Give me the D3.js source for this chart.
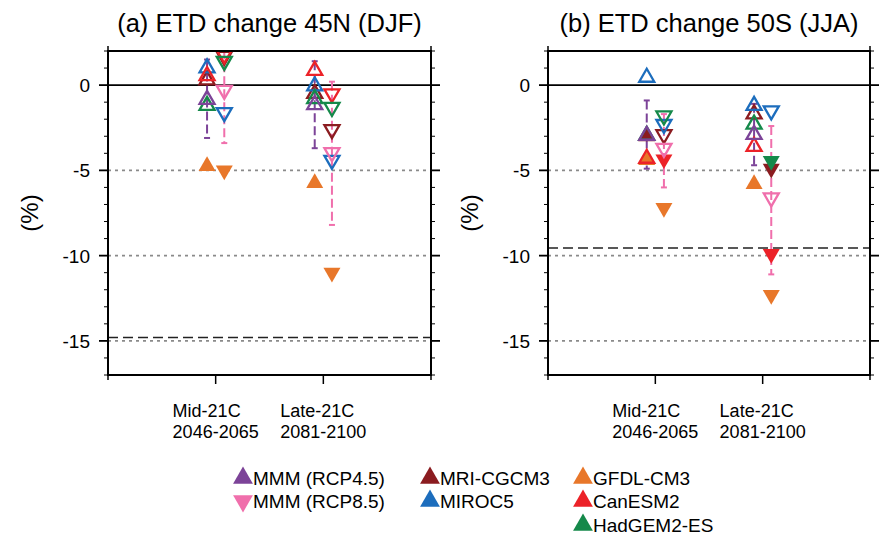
<!DOCTYPE html>
<html>
<head>
<meta charset="utf-8">
<script src="https://cdn.jsdelivr.net/npm/d3@7"></script>
<style>
body{margin:0;background:#fff;}
text{font-family:"Liberation Sans",Arial,Helvetica,sans-serif;fill:#000;}
</style>
</head>
<body>
<div id="chart"></div>
<script>
//Data
var titles = ['(a) ETD change 45N (DJF)','(b) ETD change 50S (JJA)'];
var periodNames = ['Mid-21C','Late-21C'];
var periodYears = ['2046-2065','2081-2100'];
var models = ['MRI-CGCM3','MIROC5','GFDL-CM3','CanESM2','HadGEM2-ES'];
var modelColors = ['#8b1c20','#1c6dbd','#e8772a','#ec2228','#15894a'];
var mmmNames = ['MMM (RCP4.5)','MMM (RCP8.5)'];
var mmmColors = ['#7c4398','#f06fac'];
var yTicks = [0,-5,-10,-15];
var gridLines = [-5,-10,-15];
var refLines = [-14.8,-9.55];

//model values [panel][period][model]
var rcp45 = [
	[[0.3,1.0,-4.75,0.55,-1.2],[-0.5,-0.05,-5.75,0.85,-0.8]],
	[[-3.0,0.45,-4.4,-4.3,-2.95],[-1.7,-1.2,-5.8,-3.6,-2.3]]
];
var rcp85 = [
	[[1.7,-1.6,-5.0,1.8,1.4],[-2.6,-4.4,-11.0,-0.5,-1.3]],
	[[-2.9,-2.3,-7.2,-4.35,-1.8],[-4.9,-1.5,-12.3,-9.9,-4.45]]
];
//1 = filled marker
var rcp45Filled = [
	[[0,0,1,0,0],[0,0,1,0,0]],
	[[1,0,1,0,0],[0,0,1,0,0]]
];
var rcp85Filled = [
	[[0,0,1,0,0],[0,0,1,0,0]],
	[[0,0,1,1,0],[1,0,1,1,1]]
];
//multi model mean and range [panel][period]
var mmm45 = [[-0.85,-1.15],[-2.95,-2.9]];
var mmm45Lo = [[-3.1,-3.7],[-4.9,-4.7]];
var mmm45Hi = [[1.5,1.4],[-0.9,-1.1]];
var mmm85 = [[-0.3,-3.95],[-3.7,-6.6]];
var mmm85Lo = [[-3.4,-8.2],[-6.0,-11.1]];
var mmm85Hi = [[2.8,0.2],[-1.7,-2.4]];

var w = 880, h = 537;
var plotTop = 51, plotBottom = 375;
var panelX = [[108,431],[548,870]];

var svg = d3.select('div#chart').append('svg')
			.attr('width',w)
			.attr('height',h);

var y = d3.scaleLinear().domain([2,-17]).range([plotTop,plotBottom]);
var tri = d3.symbol().type(d3.symbolTriangle);

panelX.forEach(function(px,p){
	var x = d3.scaleLinear().domain([0,3]).range(px);
	var g = svg.append('g').attr('id','panel'+p);

	g.append('clipPath').attr('id','clip'+p)
		.append('rect')
		.attr('x',px[0]).attr('y',plotTop)
		.attr('width',px[1]-px[0]).attr('height',plotBottom-plotTop);

	var plot = g.append('g').attr('clip-path','url(#clip'+p+')');

	//grid lines
	plot.selectAll('line.grid').data(gridLines).enter()
		.append('line')
		.attr('class','grid')
		.attr('x1',px[0]).attr('x2',px[1])
		.attr('y1',function(d){return y(d);})
		.attr('y2',function(d){return y(d);})
		.attr('stroke','#8a8a8a')
		.attr('stroke-width',1.6)
		.attr('stroke-dasharray','3,4');

	plot.append('line')
		.attr('x1',px[0]).attr('x2',px[1])
		.attr('y1',y(refLines[p])).attr('y2',y(refLines[p]))
		.attr('stroke','#222')
		.attr('stroke-width',1.6)
		.attr('stroke-dasharray','10,5');

	plot.append('line')
		.attr('x1',px[0]).attr('x2',px[1])
		.attr('y1',y(0)).attr('y2',y(0))
		.attr('stroke','#000')
		.attr('stroke-width',1.8);

	//series per scenario
	var scen = [
		{vals:rcp45[p],fill:rcp45Filled[p],mean:mmm45[p],lo:mmm45Lo[p],hi:mmm45Hi[p],col:mmmColors[0],off:-0.08,rot:0},
		{vals:rcp85[p],fill:rcp85Filled[p],mean:mmm85[p],lo:mmm85Lo[p],hi:mmm85Hi[p],col:mmmColors[1],off:0.08,rot:180}
	];

	scen.forEach(function(s){
		periodNames.forEach(function(n,k){
			var cx = x(k+1+s.off);
			//range bar
			plot.append('line')
				.attr('x1',cx).attr('x2',cx)
				.attr('y1',y(s.hi[k])).attr('y2',y(s.lo[k]))
				.attr('stroke',s.col)
				.attr('stroke-width',2)
				.attr('stroke-dasharray','9,4');
			[s.lo[k],s.hi[k]].forEach(function(v){
				plot.append('line')
					.attr('x1',cx-3).attr('x2',cx+3)
					.attr('y1',y(v)).attr('y2',y(v))
					.attr('stroke',s.col)
					.attr('stroke-width',2);
			});

			//models
			plot.selectAll(null).data(s.vals[k]).enter()
				.append('path')
				.attr('d',function(d,i){return tri.size(s.fill[k][i] ? 125 : 98)();})
				.attr('transform',function(d){return 'translate('+cx+','+y(d)+') rotate('+s.rot+')';})
				.attr('fill',function(d,i){return s.fill[k][i] ? modelColors[i] : 'none';})
				.attr('stroke',function(d,i){return s.fill[k][i] ? 'none' : modelColors[i];})
				.attr('stroke-width',2.3);

			//mean
			plot.append('path')
				.attr('d',tri.size(98)())
				.attr('transform','translate('+cx+','+y(s.mean[k])+') rotate('+s.rot+')')
				.attr('fill','none')
				.attr('stroke',s.col)
				.attr('stroke-width',2.3);
		});
	});

	//frame
	g.append('rect')
		.attr('x',px[0]).attr('y',plotTop)
		.attr('width',px[1]-px[0]).attr('height',plotBottom-plotTop)
		.attr('fill','none')
		.attr('stroke','#000')
		.attr('stroke-width',2);

	//y ticks both sides, outward
	var minor = d3.range(-17,3,1);
	[[px[0],-1],[px[1],1]].forEach(function(side){
		g.selectAll(null).data(minor).enter()
			.append('line')
			.attr('x1',side[0])
			.attr('x2',function(d){return side[0]+side[1]*(yTicks.indexOf(d)>=0 ? 9 : 4);})
			.attr('y1',function(d){return y(d);})
			.attr('y2',function(d){return y(d);})
			.attr('stroke','#000')
			.attr('stroke-width',function(d){return yTicks.indexOf(d)>=0 ? 1.8 : 1;});
	});

	g.selectAll('text.ytick').data(yTicks).enter()
		.append('text')
		.attr('class','ytick')
		.attr('x',px[0]-18)
		.attr('y',function(d){return y(d)+7;})
		.attr('text-anchor','end')
		.style('font-size','19px')
		.text(function(d){return d;});

	g.append('text')
		.attr('transform','translate('+(px[0]-78)+','+((plotTop+plotBottom)/2)+') rotate(-90)')
		.attr('text-anchor','middle')
		.attr('dy','0.35em')
		.style('font-size','24px')
		.text('(%)');

	//x ticks
	g.selectAll(null).data([1,2]).enter()
		.append('line')
		.attr('x1',function(d){return x(d);})
		.attr('x2',function(d){return x(d);})
		.attr('y1',plotBottom).attr('y2',plotBottom+9)
		.attr('stroke','#000')
		.attr('stroke-width',1.5);
	[0,3].forEach(function(d){
		g.append('line').attr('x1',x(d)).attr('x2',x(d)).attr('y1',plotTop).attr('y2',plotTop-5)
			.attr('stroke','#000').attr('stroke-width',1.5);
		g.append('line').attr('x1',x(d)).attr('x2',x(d)).attr('y1',plotBottom).attr('y2',plotBottom+5)
			.attr('stroke','#000').attr('stroke-width',1.5);
	});

	periodNames.forEach(function(n,k){
		var yr = g.append('text')
			.attr('x',x(k+1))
			.attr('y',438)
			.attr('text-anchor','middle')
			.style('font-size','18px')
			.text(periodYears[k]);
		var bb = yr.node().getBBox();
		g.append('text')
			.attr('x',bb.x)
			.attr('y',417)
			.style('font-size','18px')
			.text(n);
	});

	//title
	g.append('text')
		.attr('x',(px[0]+px[1])/2)
		.attr('y',32)
		.attr('text-anchor','middle')
		.style('font-size','25.5px')
		.text(titles[p]);
});

//Legend
var legendItems = [
	{label:mmmNames[0],color:mmmColors[0],rot:0,col:0,row:0},
	{label:mmmNames[1],color:mmmColors[1],rot:180,col:0,row:1},
	{label:models[0],color:modelColors[0],rot:0,col:1,row:0},
	{label:models[1],color:modelColors[1],rot:0,col:1,row:1},
	{label:models[2],color:modelColors[2],rot:0,col:2,row:0},
	{label:models[3],color:modelColors[3],rot:0,col:2,row:1},
	{label:models[4],color:modelColors[4],rot:0,col:2,row:2}
];
var legX = [243,430,583];
var legY = [478,501,525];

var legend = svg.append('g').attr('id','legend');
var items = legend.selectAll('g').data(legendItems).enter()
	.append('g')
	.attr('transform',function(d){return 'translate('+legX[d.col]+','+legY[d.row]+')';});

items.append('path')
	.attr('d',tri.size(170)())
	.attr('transform',function(d){return 'rotate('+d.rot+')';})
	.attr('fill',function(d){return d.color;});

items.append('text')
	.attr('x',10)
	.attr('y',7)
	.style('font-size','19px')
	.text(function(d){return d.label;});
</script>
</body>
</html>
